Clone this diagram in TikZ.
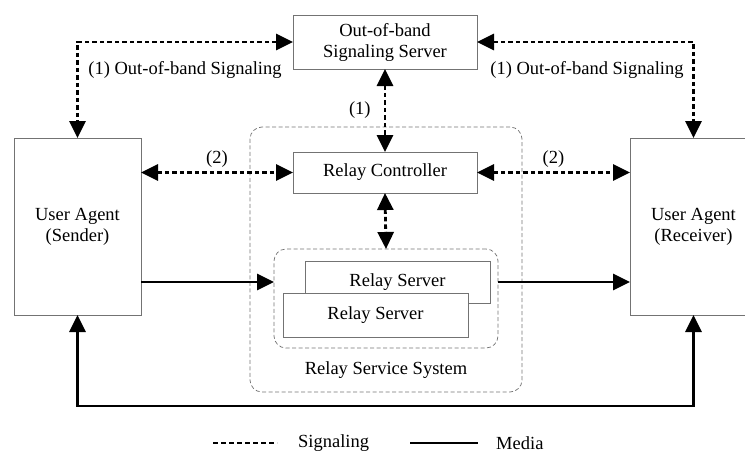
\documentclass[tikz,border=0pt]{standalone}
\usepackage{fontspec}
\setmainfont{Liberation Serif}
\usetikzlibrary{positioning, arrows.meta}

\begin{document}
\begin{tikzpicture}[x=1pt, y=-1pt,
		font=\fontsize{18.5}{21}\selectfont,
		box/.style={draw=black!55, line width=0.8pt, fill=white, outer sep=0pt, inner sep=0pt, align=center},
		group/.style={draw=black!55, line width=0.7pt, dash pattern=on 4pt off 2.5pt, rounded corners=12pt, outer sep=0pt, inner sep=0pt},
		sig/.style={line width=2.8pt, dash pattern=on 4.5pt off 3pt, {Triangle[length=17pt,width=16pt]}-{Triangle[length=17pt,width=16pt]}},
		media/.style={line width=2.8pt, -{Triangle[length=17pt,width=16pt]}},
		lbl/.style={inner sep=1pt}]
			\useasboundingbox (0,0) rectangle (745,455);
			% boxes
			\node[group, minimum width=272pt, minimum height=265pt] (system) at (386,259.5) {};
			\node[group, minimum width=224pt, minimum height=99pt]  (pool)   at (386,298.5) {};
			\node[box, minimum width=184pt, minimum height=54pt]  (oob)    at (385,42)    {Out-of-band\\Signaling Server};
			\node[box, minimum width=184pt, minimum height=41pt]  (ctrl)   at (385,172.5) {Relay Controller};
			\node[box, minimum width=127pt, minimum height=177pt] (sender) at (77.5,226.5) {User Agent\\(Sender)};
			\node[box, minimum width=127pt, minimum height=177pt] (recv)   at (693.5,226.5) {User Agent\\(Receiver)};
			\node[box, minimum width=185pt, minimum height=42pt]  (relay2) at (397.5,282) {Relay Server};
			\node[box, minimum width=185pt, minimum height=44pt]  (relay1) at (375.5,315) {Relay Server};
			\node[lbl] (syslabel) at (386,370) {Relay Service System};

			% signaling
			\draw[sig] (oob.west) -| (sender.north);
			\draw[sig] (oob.east) -| (recv.north);
			\draw[sig] (oob.south) -- node[lbl, left=12pt] {(1)} (ctrl.north);
			\draw[sig] (ctrl.west -| sender.east) -- node[lbl, above=3pt] {(2)} (ctrl.west);
			\draw[sig] (ctrl.east) -- node[lbl, above=3pt] {(2)} (ctrl.east -| recv.west);
			\draw[sig] (ctrl.south) -- (pool.north);
			\node[lbl] (oobl) at (185,70) {(1) Out-of-band Signaling};
			\node[lbl] (oobr) at (587,70) {(1) Out-of-band Signaling};

			% media
			\draw[media] (relay2.west -| sender.east) -- (relay2.west -| pool.west);
			\draw[media] (relay2.west -| pool.east) -- (relay2.west -| recv.west);
			\draw[media, {Triangle[length=17pt,width=16pt]}-{Triangle[length=17pt,width=16pt]}] (sender.south) -- ++(0,91) -| (recv.south);

			% legend
			\coordinate (sigA) at (213,443);
			\coordinate (sigB) at (277,443);
			\coordinate (medA) at (410,443);
			\coordinate (medB) at (478,443);
			\draw[line width=2.8pt, dash pattern=on 5pt off 3pt] (sigA) -- (sigB);
			\node[lbl, right=20pt of sigB] (sigtext) {Signaling};
			\draw[line width=2.8pt] (medA) -- (medB);
			\node[lbl, right=17pt of medB] (medtext) {Media};
		\end{tikzpicture}
\end{document}
